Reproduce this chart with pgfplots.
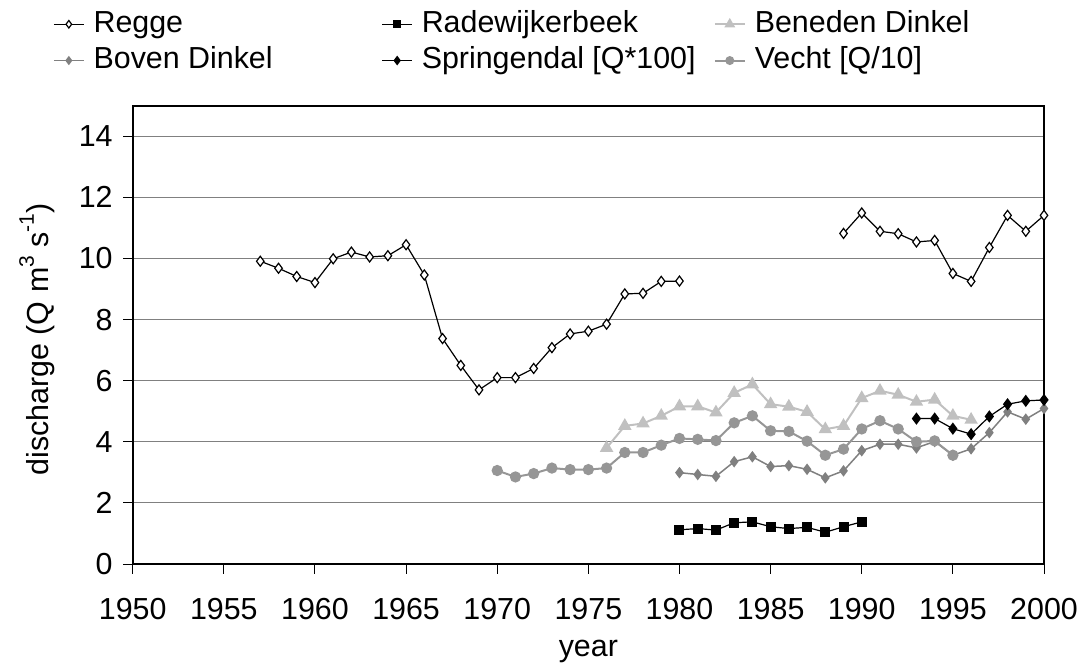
\documentclass[border=0pt]{standalone}
\usepackage{fontspec}
\setmainfont{Liberation Sans}
\usepackage{pgfplots}
\pgfplotsset{compat=1.18}
\usepackage{pgfplotstable}

\definecolor{lgray}{HTML}{C0C0C0}
\definecolor{mgray}{HTML}{969696}
\definecolor{dgray}{HTML}{808080}
\newcommand\mysup[1]{\raisebox{0.48em}{\fontsize{10.5pt}{12pt}\selectfont #1}}

\pgfplotstableread{
year Q
1957 9.91
1958 9.68
1959 9.41
1960 9.21
1961 9.99
1962 10.21
1963 10.05
1964 10.09
1965 10.45
1966 9.46
1967 7.38
1968 6.50
1969 5.70
1970 6.10
1971 6.10
1972 6.40
1973 7.08
1974 7.53
1975 7.62
1976 7.85
1977 8.84
1978 8.86
1979 9.25
1980 9.26
1985 nan
1989 10.82
1990 11.49
1991 10.89
1992 10.81
1993 10.54
1994 10.59
1995 9.51
1996 9.25
1997 10.36
1998 11.41
1999 10.89
2000 11.41
}\regge

\pgfplotstableread{
year Q
1980 1.12
1981 1.16
1982 1.11
1983 1.35
1984 1.38
1985 1.22
1986 1.16
1987 1.20
1988 1.04
1989 1.22
1990 1.38
}\radewijk

\pgfplotstableread{
year Q
1976 3.80
1977 4.52
1978 4.60
1979 4.85
1980 5.16
1981 5.16
1982 4.96
1983 5.60
1984 5.88
1985 5.23
1986 5.15
1987 4.98
1988 4.41
1989 4.52
1990 5.43
1991 5.67
1992 5.54
1993 5.31
1994 5.38
1995 4.85
1996 4.72
}\beneden

\pgfplotstableread{
year Q
1980 2.99
1981 2.93
1982 2.87
1983 3.35
1984 3.51
1985 3.19
1986 3.22
1987 3.10
1988 2.82
1989 3.05
1990 3.71
1991 3.92
1992 3.92
1993 3.80
1994 4.01
1995 3.56
1996 3.77
1997 4.30
1998 4.98
1999 4.74
2000 5.09
}\boven

\pgfplotstableread{
year Q
1993 4.76
1994 4.76
1995 4.43
1996 4.25
1997 4.83
1998 5.23
1999 5.34
2000 5.37
}\springendal

\pgfplotstableread{
year Q
1970 3.06
1971 2.85
1972 2.96
1973 3.14
1974 3.09
1975 3.09
1976 3.14
1977 3.65
1978 3.65
1979 3.89
1980 4.11
1981 4.08
1982 4.04
1983 4.62
1984 4.85
1985 4.36
1986 4.34
1987 4.02
1988 3.56
1989 3.76
1990 4.42
1991 4.69
1992 4.42
1993 4.00
1994 4.03
1995 3.56
}\vecht

\begin{document}
\fontsize{15.2pt}{18pt}\selectfont
\begin{tikzpicture}
\begin{axis}[
  scale only axis, width=455.65pt, height=229.15pt,
  xmin=1950, xmax=2000, ymin=0, ymax=15,
  xtick={1950,1955,...,2000}, ytick={0,2,...,14},
  xtick pos=bottom, ytick pos=left,
  /pgf/number format/assume math mode=true,
  /pgf/number format/1000 sep={},
  tick align=outside, major tick length=4.8pt,
  tick style={black, line width=0.5pt},
  xticklabel style={yshift=-7pt},
  ymajorgrids, grid style={color=dgray, line width=0.5pt},
  axis line style={line width=0.8pt},
  unbounded coords=jump,
  xlabel={year},
  ylabel={discharge (Q m\mysup{3} s\mysup{-1})},
  xlabel style={at={(axis description cs:0.5,-0.19)}, anchor=center},
  ylabel style={at={(axis description cs:-0.105,0.49)}, anchor=center},
  legend columns=3,
  legend cell align=left,
  legend style={draw=none, fill=none, inner sep=0pt,
    at={(axis description cs:-0.0878,1.2188)}, anchor=north west,
    row sep=-0.3pt,
    nodes={inner sep=2pt, text height=0.75em, text depth=0.2em}},
  legend image code/.code={
    \draw[mark repeat=2,mark phase=2,#1, every mark/.append style={scale=0.75}]
      plot coordinates {(0pt,0pt)(7.5pt,0pt)(15pt,0pt)};
    \path (17.5pt,0pt);},
]
\addplot[black, line width=0.6pt, mark=diamond*, mark size=2.5pt,
  mark options={fill=white, draw=black, line width=0.6pt, solid}]
  table[x=year,y=Q]{\regge};
\addlegendentry{\makebox[142pt][l]{Regge}}
\addplot[black, line width=0.6pt, mark=square*, mark size=2.2pt,
  mark options={fill=black, solid}]
  table[x=year,y=Q]{\radewijk};
\addlegendentry{\makebox[144pt][l]{Radewijkerbeek}}
\addplot[lgray, line width=1pt, mark=triangle*, mark size=2.9pt,
  mark options={fill=lgray, draw=lgray, solid}]
  table[x=year,y=Q]{\beneden};
\addlegendentry{Beneden Dinkel}
\addplot[dgray, line width=0.75pt, mark=diamond*, mark size=2.3pt,
  mark options={fill=dgray, draw=dgray, solid}]
  table[x=year,y=Q]{\boven};
\addlegendentry{\makebox[142pt][l]{Boven Dinkel}}
\addplot[black, line width=0.6pt, mark=diamond*, mark size=2.6pt,
  mark options={fill=black, solid}]
  table[x=year,y=Q]{\springendal};
\addlegendentry{\makebox[144pt][l]{Springendal [Q*100]}}
\addplot[mgray, line width=1pt, mark=*, mark size=2.3pt,
  mark options={fill=mgray, draw=mgray, solid}]
  table[x=year,y=Q]{\vecht};
\addlegendentry{Vecht [Q/10]}
\end{axis}
\pgfresetboundingbox
\path[use as bounding box] ([xshift=-66.35pt,yshift=-53pt]current axis.south west)
  rectangle ([xshift=21.5pt,yshift=52.85pt]current axis.north east);
\end{tikzpicture}
\end{document}
